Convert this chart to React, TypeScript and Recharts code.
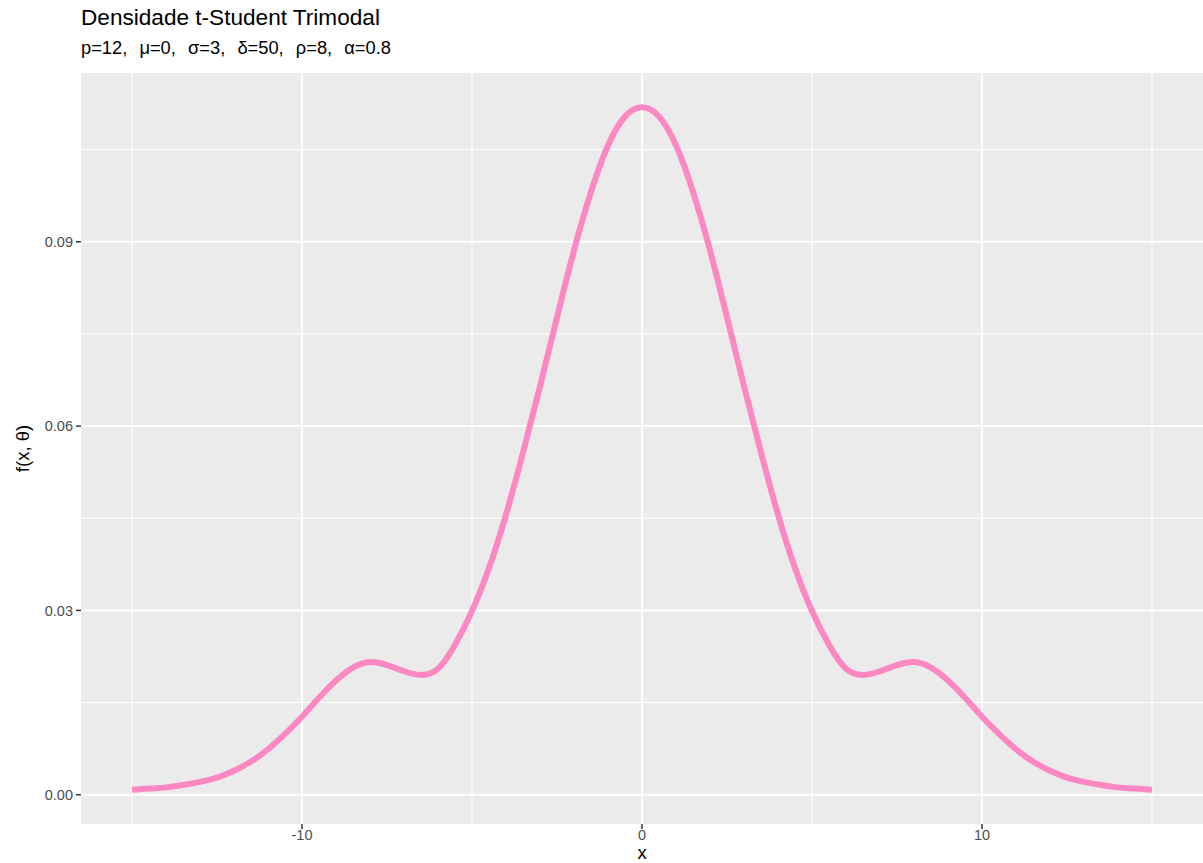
import React from "react";
import { LineChart, Line, XAxis, YAxis, ReferenceLine, ReferenceArea } from "recharts";

// Density curve f(x, θ), sampled every 0.5 on [-15, 15]
const xValues = [
  -15, -14.5, -14, -13.5, -13, -12.5, -12, -11.5, -11, -10.5,
  -10, -9.5, -9, -8.5, -8, -7.5, -7, -6.5, -6, -5.5,
  -5, -4.5, -4, -3.5, -3, -2.5, -2, -1.5, -1, -0.5,
  0,
  0.5, 1, 1.5, 2, 2.5, 3, 3.5, 4, 4.5, 5,
  5.5, 6, 6.5, 7, 7.5, 8, 8.5, 9, 9.5, 10,
  10.5, 11, 11.5, 12, 12.5, 13, 13.5, 14, 14.5, 15,
];

const densityValues = [
  0.0008, 0.001, 0.0012, 0.0016, 0.0021, 0.0028, 0.0039, 0.0054, 0.0074, 0.0099,
  0.0127, 0.0158, 0.0186, 0.0207, 0.0216, 0.0211, 0.0201, 0.0195, 0.0205, 0.0244,
  0.0299, 0.0369, 0.0456, 0.0557, 0.0665, 0.0777, 0.0886, 0.0981, 0.1057, 0.1104,
  0.1119,
  0.1104, 0.1057, 0.0981, 0.0886, 0.0777, 0.0665, 0.0557, 0.0456, 0.0369, 0.0299,
  0.0244, 0.0205, 0.0195, 0.0201, 0.0211, 0.0216, 0.0207, 0.0186, 0.0158, 0.0127,
  0.0099, 0.0074, 0.0054, 0.0039, 0.0028, 0.0021, 0.0016, 0.0012, 0.001, 0.0008,
];

const xTicks = [-10, 0, 10];
const xMinorGrid = [-15, -5, 5, 15];
const yTicks = [0, 0.03, 0.06, 0.09];
const yMinorGrid = [0.015, 0.045, 0.075, 0.105];

const titleText = "Densidade t-Student Trimodal";
const subtitleText = "p=12,  \u03bc=0,  \u03c3=3,  \u03b4=50,  \u03c1=8,  \u03b1=0.8";
const xLabel = "x";
const yLabel = "f(x, \u03b8)";

const data = xValues.map((x, i) => ({ x, y: densityValues[i] }));

const FONT = "'Liberation Sans', Arial, Helvetica, sans-serif";
const X_DOMAIN: [number, number] = [-16.5, 16.5];
const Y_DOMAIN: [number, number] = [-0.00476, 0.11746];

export default function App() {
  return (
    <div style={{ position: "absolute", left: 0, top: 0, width: 1203, height: 863, background: "#fff", fontFamily: FONT }}>
      <div style={{ position: "absolute", left: 81, top: 5, fontSize: 22.6, color: "#000", whiteSpace: "pre", lineHeight: 1.15 }}>
        {titleText}
      </div>
      <div style={{ position: "absolute", left: 81, top: 37, fontSize: 18.3, wordSpacing: 1, color: "#000", whiteSpace: "pre", lineHeight: 1.15 }}>
        {subtitleText}
      </div>
      <div style={{ position: "absolute", left: 0, top: 0 }}>
        <LineChart width={1203} height={863} data={data} margin={{ top: 73, right: 0, bottom: 0, left: 0 }}>
          <ReferenceArea x1={X_DOMAIN[0]} x2={X_DOMAIN[1]} y1={Y_DOMAIN[0]} y2={Y_DOMAIN[1]} fill="#EBEBEB" fillOpacity={1} stroke="none" ifOverflow="visible" />
          {yMinorGrid.map((v) => (
            <ReferenceLine key={"ym" + v} y={v} stroke="#FFFFFF" strokeWidth={1} />
          ))}
          {xMinorGrid.map((v) => (
            <ReferenceLine key={"xm" + v} x={v} stroke="#FFFFFF" strokeWidth={1} />
          ))}
          {yTicks.map((v) => (
            <ReferenceLine key={"yM" + v} y={v} stroke="#FFFFFF" strokeWidth={2} />
          ))}
          {xTicks.map((v) => (
            <ReferenceLine key={"xM" + v} x={v} stroke="#FFFFFF" strokeWidth={2} />
          ))}
          <XAxis
            dataKey="x"
            type="number"
            domain={X_DOMAIN}
            ticks={xTicks}
            allowDataOverflow
            height={39}
            axisLine={false}
            tickSize={5}
            tickMargin={1}
            tickLine={{ stroke: "#333333", strokeWidth: 1.5 }}
            tick={{ fill: "#4D4D4D", fontSize: 14.5, fontFamily: FONT }}
            label={{ value: xLabel, position: "insideBottom", offset: 4, fill: "#000", fontSize: 18.5, fontFamily: FONT }}
          />
          <YAxis
            dataKey="y"
            type="number"
            domain={Y_DOMAIN}
            ticks={yTicks}
            allowDataOverflow
            width={81}
            axisLine={false}
            tickSize={5}
            tickMargin={3}
            tickLine={{ stroke: "#333333", strokeWidth: 1.5 }}
            tickFormatter={(v: number) => v.toFixed(2)}
            tick={{ fill: "#4D4D4D", fontSize: 14.5, fontFamily: FONT }}
            label={{ value: yLabel, angle: -90, position: "insideLeft", offset: 22, fill: "#000", fontSize: 18.5, fontFamily: FONT, style: { textAnchor: "middle" } }}
          />
          <Line
            type="natural"
            dataKey="y"
            stroke="#FD87C3"
            strokeWidth={6}
            dot={false}
            activeDot={false}
            isAnimationActive={false}
          />
        </LineChart>
      </div>
    </div>
  );
}
